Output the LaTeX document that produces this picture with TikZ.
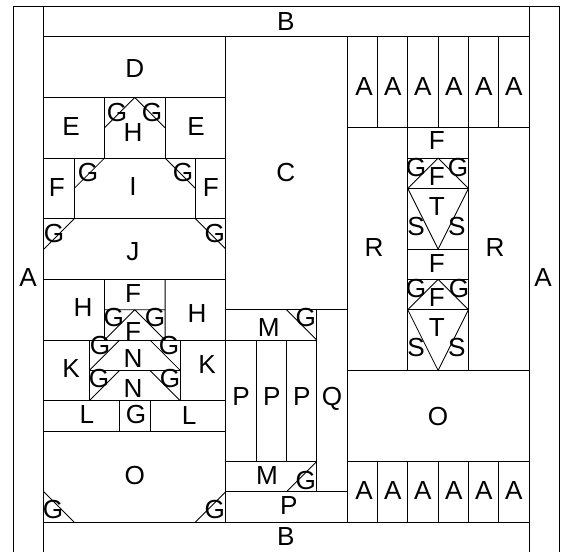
\documentclass[tikz,border=0pt]{standalone}
\usepackage{fontspec}
\setmainfont{Liberation Sans}
\tikzset{
  piece/.style={draw=black,line width=0.8pt},
  lbl/.style={inner sep=0pt,font=\fontsize{24.5}{24.5}\selectfont}
}
\begin{document}
\begin{tikzpicture}[x=1cm,y=-1cm]
\path[use as bounding box,fill=white] (-0.445,-0.214) rectangle (18.118,17.985);
% frame
\draw[piece] (0,0) rectangle (18,18);
\draw[piece] (1,0)--(1,18) (17,0)--(17,18) (1,1)--(17,1) (1,17)--(17,17);
% left column
\draw[piece] (1,3)--(7,3) (1,5)--(7,5) (1,7)--(7,7) (1,9)--(7,9) (1,11)--(7,11) (1,13)--(7,13) (1,14)--(7,14);
\draw[piece] (3,3)--(3,5) (5,3)--(5,5) (2,5)--(2,7) (6,5)--(6,7);
\draw[piece] (3,4)--(4,3)--(5,4) (2,6)--(3,5) (5,5)--(6,6) (1,8)--(2,7) (6,7)--(7,8);
\draw[piece] (3,9)--(3,11) (5,9)--(5,11) (3,10)--(5,10) (3,11)--(4,10)--(5,11);
\draw[piece] (2.5,11)--(2.5,13) (5.5,11)--(5.5,13) (2.5,12)--(5.5,12);
\draw[piece] (2.5,12)--(3.5,11) (4.5,11)--(5.5,12) (2.5,13)--(3.5,12) (4.5,12)--(5.5,13);
\draw[piece] (3.5,13)--(3.5,14) (4.5,13)--(4.5,14);
\draw[piece] (1,16)--(2,17) (6,17)--(7,16);
% middle column
\draw[piece] (7,1)--(7,17) (11,1)--(11,17) (7,10)--(11,10) (7,11)--(10,11) (7,15)--(10,15) (7,16)--(11,16);
\draw[piece] (10,10)--(10,16) (8,11)--(8,15) (9,11)--(9,15);
\draw[piece] (9,10)--(10,11) (9,16)--(10,15);
% right column
\draw[piece] (11,4)--(17,4) (11,15)--(17,15);
\draw[piece,line width=1.3pt] (11,12)--(13,12);
\draw[piece] (13,12)--(17,12);
\foreach \x in {12,...,16} \draw[piece] (\x,1)--(\x,4) (\x,15)--(\x,17);
\draw[piece] (13,4)--(13,12) (15,4)--(15,12);
\foreach \y in {5,9} {
  \draw[piece] (13,\y)--(15,\y) (13,\y+1)--(15,\y+1);
  \draw[piece] (13,\y+1)--(14,\y)--(15,\y+1)--(14,\y+3)--cycle;
}
\draw[piece] (13,8)--(15,8);
% labels
\node[lbl] (Bt) at (8.98,0.48) {B};
\node[lbl] (Bb) at (8.98,17.49) {B};
\node[lbl] (Al) at (0.48,8.95) {A};
\node[lbl] (Ar) at (17.46,8.92) {A};
\node[lbl] (D) at (4.00,2.03) {D};
\node[lbl] (E1) at (1.90,3.97) {E};
\node[lbl] (E2) at (6.02,3.97) {E};
\node[lbl] (G1) at (3.41,3.51) {G};
\node[lbl] (G2) at (4.57,3.51) {G};
\node[lbl] (H1) at (3.94,4.14) {H};
\node[lbl] (F1) at (1.43,5.98) {F};
\node[lbl] (G3) at (2.46,5.46) {G};
\node[lbl] (I) at (3.94,5.95) {I};
\node[lbl] (G4) at (5.59,5.46) {G};
\node[lbl] (F2) at (6.51,5.98) {F};
\node[lbl] (G5) at (1.34,7.47) {G};
\node[lbl] (J) at (3.94,8.09) {J};
\node[lbl] (G6) at (6.64,7.47) {G};
\node[lbl] (F3) at (3.94,9.45) {F};
\node[lbl] (H2) at (2.29,9.91) {H};
\node[lbl] (H3) at (6.05,10.11) {H};
\node[lbl] (G7) at (3.31,10.27) {G};
\node[lbl] (G8) at (4.67,10.27) {G};
\node[lbl] (F4) at (3.94,10.73) {F};
\node[lbl] (G9) at (2.85,11.19) {G};
\node[lbl] (G10) at (5.13,11.19) {G};
\node[lbl] (K1) at (1.90,11.95) {K};
\node[lbl] (N1) at (3.94,11.62) {N};
\node[lbl] (K2) at (6.38,11.82) {K};
\node[lbl] (G11) at (2.82,12.28) {G};
\node[lbl] (G12) at (5.16,12.28) {G};
\node[lbl] (N2) at (3.94,12.58) {N};
\node[lbl] (L1) at (2.42,13.44) {L};
\node[lbl] (G13) at (4.04,13.44) {G};
\node[lbl] (L2) at (5.79,13.50) {L};
\node[lbl] (O1) at (4.00,15.45) {O};
\node[lbl] (G14) at (1.30,16.60) {G};
\node[lbl] (G15) at (6.64,16.60) {G};
\node[lbl] (C) at (8.98,5.46) {C};
\node[lbl] (M1) at (8.42,10.57) {M};
\node[lbl] (G16) at (9.64,10.27) {G};
\node[lbl] (P1) at (7.50,12.87) {P};
\node[lbl] (P2) at (8.52,12.87) {P};
\node[lbl] (P3) at (9.51,12.87) {P};
\node[lbl] (Q) at (10.50,12.94) {Q};
\node[lbl] (M2) at (8.36,15.45) {M};
\node[lbl] (G17) at (9.64,15.64) {G};
\node[lbl] (P4) at (9.08,16.47) {P};
\foreach \x in {11.56,12.51,13.5,14.52,15.51,16.5} {
  \node[lbl] (At\x) at (\x,2.65) {A};
  \node[lbl] (Ab\x) at (\x,15.97) {A};
}
\node[lbl] (R1) at (11.89,7.96) {R};
\node[lbl] (R2) at (15.88,7.96) {R};
\node[lbl] (F5) at (13.96,4.43) {F};
\node[lbl] (G18) at (13.27,5.32) {G};
\node[lbl] (G19) at (14.66,5.32) {G};
\node[lbl] (F6) at (13.96,5.62) {F};
\node[lbl] (T1) at (13.96,6.58) {T};
\node[lbl] (S1) at (13.27,7.27) {S};
\node[lbl] (S2) at (14.62,7.27) {S};
\node[lbl] (F7) at (13.96,8.46) {F};
\node[lbl] (G20) at (13.27,9.31) {G};
\node[lbl] (G21) at (14.69,9.31) {G};
\node[lbl] (F8) at (13.96,9.58) {F};
\node[lbl] (T2) at (13.96,10.57) {T};
\node[lbl] (S3) at (13.27,11.26) {S};
\node[lbl] (S4) at (14.62,11.26) {S};
\node[lbl] (O2) at (14.00,13.53) {O};
\end{tikzpicture}
\end{document}
